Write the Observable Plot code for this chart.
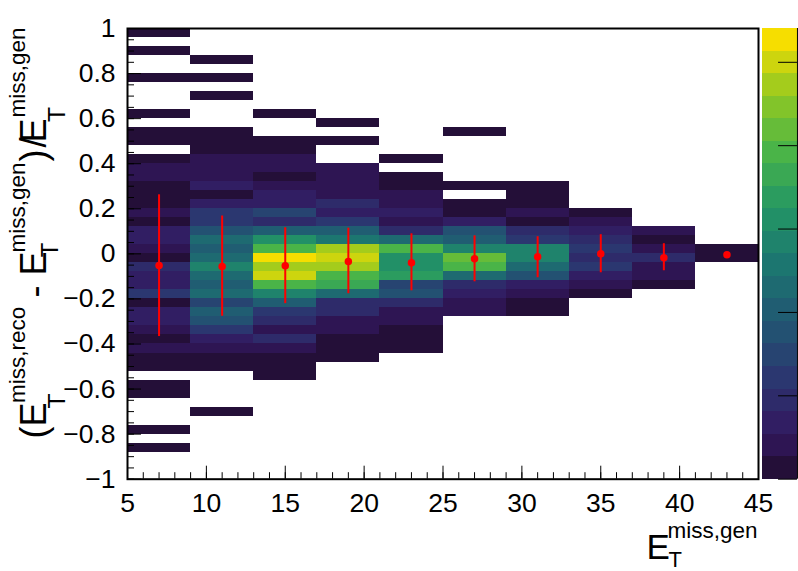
<!DOCTYPE html>
<html>
<head>
<meta charset="utf-8">
<script src="https://cdn.jsdelivr.net/npm/d3@7"></script>
<script src="https://cdn.jsdelivr.net/npm/@observablehq/plot@0.6"></script>
<style>
html,body{margin:0;padding:0;background:#fff}
svg{display:block;font-family:"Liberation Sans",Arial,sans-serif}
</style>
</head>
<body>
<div id="chart"></div>
<script>
const _ = null;
// contour level (0-19) of each y bin, listed from y = 1 down to y = -1, one list per x bin
const xEdges = [5, 9, 13, 17, 21, 25, 29, 33, 37, 41, 45];
const yBinWidth = 0.04;
const col05 = [0,_,0,_,_,0,_,_,_,0,_,0,0,_,0,1,1,0,0,0,1,0,2,2,1,0,3,2,2,4,0,2,2,1,0,1,0,0,_,0,0,_,_,_,0,_,0,_,_,_];
const col09 = [_,_,_,0,_,0,_,0,_,_,_,0,0,0,1,1,1,2,0,2,4,4,6,8,7,8,10,8,7,8,5,7,6,4,2,1,0,0,_,_,_,_,0,_,_,_,_,_,_,_];
const col13 = [_,_,_,_,_,_,_,_,_,0,_,_,0,0,1,1,0,1,2,2,5,3,7,11,14,19,17,18,14,10,7,4,3,1,3,1,0,0,0,_,_,_,_,_,_,_,_,_,_,_];
const col17 = [_,_,_,_,_,_,_,_,_,_,0,_,0,_,_,1,1,1,1,3,2,4,7,9,17,18,17,14,13,8,3,3,1,1,0,0,0,_,_,_,_,_,_,_,_,_,_,_,_,_];
const col21 = [_,_,_,_,_,_,_,_,_,_,_,_,_,_,0,_,0,0,1,1,2,1,3,8,14,11,11,12,5,6,3,1,1,0,0,0,_,_,_,_,_,_,_,_,_,_,_,_,_,_];
const col25 = [_,_,_,_,_,_,_,_,_,_,_,0,_,_,_,_,_,0,_,0,0,2,6,7,10,15,14,8,3,2,1,1,_,_,_,_,_,_,_,_,_,_,_,_,_,_,_,_,_,_];
const col29 = [_,_,_,_,_,_,_,_,_,_,_,_,_,_,_,_,_,0,0,0,1,0,3,4,10,10,8,6,2,1,0,0,_,_,_,_,_,_,_,_,_,_,_,_,_,_,_,_,_,_];
const col33 = [_,_,_,_,_,_,_,_,_,_,_,_,_,_,_,_,_,_,_,_,0,1,2,3,4,3,4,2,1,0,_,_,_,_,_,_,_,_,_,_,_,_,_,_,_,_,_,_,_,_];
const col37 = [_,_,_,_,_,_,_,_,_,_,_,_,_,_,_,_,_,_,_,_,_,_,1,0,1,3,1,1,0,_,_,_,_,_,_,_,_,_,_,_,_,_,_,_,_,_,_,_,_,_];
const col41 = [_,_,_,_,_,_,_,_,_,_,_,_,_,_,_,_,_,_,_,_,_,_,_,_,0,0,_,_,_,_,_,_,_,_,_,_,_,_,_,_,_,_,_,_,_,_,_,_,_,_];
const columns = [col05, col09, col13, col17, col21, col25, col29, col33, col37, col41];

// red profile points
const profileX = [7, 11, 15, 19, 23, 27, 31, 35, 39, 43];
const profileMean = [-0.052, -0.056, -0.053, -0.034, -0.039, -0.022, -0.013, 0.000, -0.017, -0.004];
const profileTop = [0.262, 0.168, 0.116, 0.114, 0.089, 0.080, 0.076, 0.085, 0.045, 0.004];
const profileBottom = [-0.367, -0.277, -0.221, -0.177, -0.164, -0.124, -0.106, -0.084, -0.075, -0.012];

const palette = ["#240f38","#2e1553","#311e63","#2e2b6a","#2b3770","#274471","#235172","#205d72","#1e6a71","#1c7670",
                 "#1f836c","#229067","#2b9c5f","#3aa854","#4ab448","#66bc39","#82c42a","#a4cc1c","#cdd50e","#f6de00"];
const levels = d3.range(20);

const xMajor = [5, 10, 15, 20, 25, 30, 35, 40, 45];
const xMinor = d3.range(5, 46);
const yMajor = [-1, -0.8, -0.6, -0.4, -0.2, 0, 0.2, 0.4, 0.6, 0.8, 1];
const yMinor = d3.range(-20, 21).map(d => d / 20);

// colour bar sits right of the frame: its span on the x scale, its ticks on the level scale
const barLeft = 45.25, barRight = 47.47, barTickLeft = 46.27;
const barTicks = [0, 3.7, 7.4, 11.1, 14.8, 18.5];
const levelToY = l => -1 + l * 0.1;

const cells = columns.flatMap((col, c) => col.flatMap((level, r) => level === null ? [] : [{
  x1: xEdges[c], x2: xEdges[c + 1], y1: 1 - r * yBinWidth, y2: 1 - (r + 1) * yBinWidth, level
}]));
const profile = profileX.map((x, i) => ({x, mean: profileMean[i], top: profileTop[i], bottom: profileBottom[i]}));

const ML = 127, MT = 28;
const title = (text, px, py, fontSize, rotate = 0) => Plot.text([text], {
  text: d => d, frameAnchor: "top-left", dx: px - ML, dy: py - MT, fontSize, rotate,
  textAnchor: "start", lineAnchor: "bottom", fill: "black"
});
const minus = d => String(d).replace("-", "\u2212");

const chart = Plot.plot({
  width: 798, height: 571,
  marginLeft: ML, marginRight: 40, marginTop: MT, marginBottom: 92.3,
  style: {fontFamily: '"Liberation Sans", Arial, sans-serif', background: "white", overflow: "visible"},
  x: {domain: [5, 45]},
  y: {domain: [-1, 1]},
  color: {type: "ordinal", domain: levels, range: palette},
  marks: [
    Plot.rect(cells, {x1: "x1", x2: "x2", y1: "y1", y2: "y2", fill: "level", shapeRendering: "crispEdges"}),
    // colour bar
    Plot.rect(levels, {x1: barLeft, x2: barRight, y1: d => levelToY(d), y2: d => levelToY(d + 1), fill: d => d, shapeRendering: "crispEdges"}),
    Plot.ruleY(barTicks, {y: levelToY, x1: barTickLeft, x2: barRight, stroke: "black", strokeWidth: 1}),
    Plot.ruleX([barRight], {y1: -1, y2: 1, stroke: "black", strokeWidth: 1}),
    // profile
    Plot.ruleX(profile, {x: "x", y1: "top", y2: "bottom", stroke: "#ff0000", strokeWidth: 2}),
    Plot.dot(profile, {x: "x", y: "mean", r: 3.75, fill: "#ff0000", stroke: "none"}),
    // axes
    Plot.axisX({ticks: xMinor, tickSize: -6.5, tickFormat: () => "", label: null, stroke: "black", strokeWidth: 1}),
    Plot.axisX({ticks: xMajor, tickSize: -13, tickPadding: 26.5, fontSize: 26.5, tickFormat: d => String(d), label: null, stroke: "black", strokeWidth: 1, color: "black"}),
    Plot.axisY({ticks: yMinor, tickSize: -7, tickFormat: () => "", label: null, stroke: "black", strokeWidth: 1}),
    Plot.axisY({ticks: yMajor, tickSize: -14, tickPadding: 26, fontSize: 26.5, tickFormat: minus, label: null, stroke: "black", strokeWidth: 1, color: "black"}),
    Plot.frame({stroke: "black", strokeWidth: 2}),
    // x title
    title("E", 646, 558, 35),
    title("T", 668, 566, 22),
    title("miss,gen", 667, 537, 22.5),
    // y title
    title("(E", 45, 438, 36, -90),
    title("T", 64, 408, 24.5, -90),
    title("miss,reco", 24, 402.5, 22.5, -90),
    title("-", 46, 297, 36, -90),
    title("E", 45, 275, 36, -90),
    title("T", 57.5, 256.7, 24, -90),
    title("miss,gen", 24, 252, 22.5, -90),
    title(")", 45, 161, 36, -90),
    title("/", 45, 147, 36, -90),
    title("E", 45, 142, 36, -90),
    title("T", 64, 121.5, 24.5, -90),
    title("miss,gen", 24, 117, 22.5, -90)
  ]
});
document.getElementById("chart").appendChild(chart);
</script>
</body>
</html>
